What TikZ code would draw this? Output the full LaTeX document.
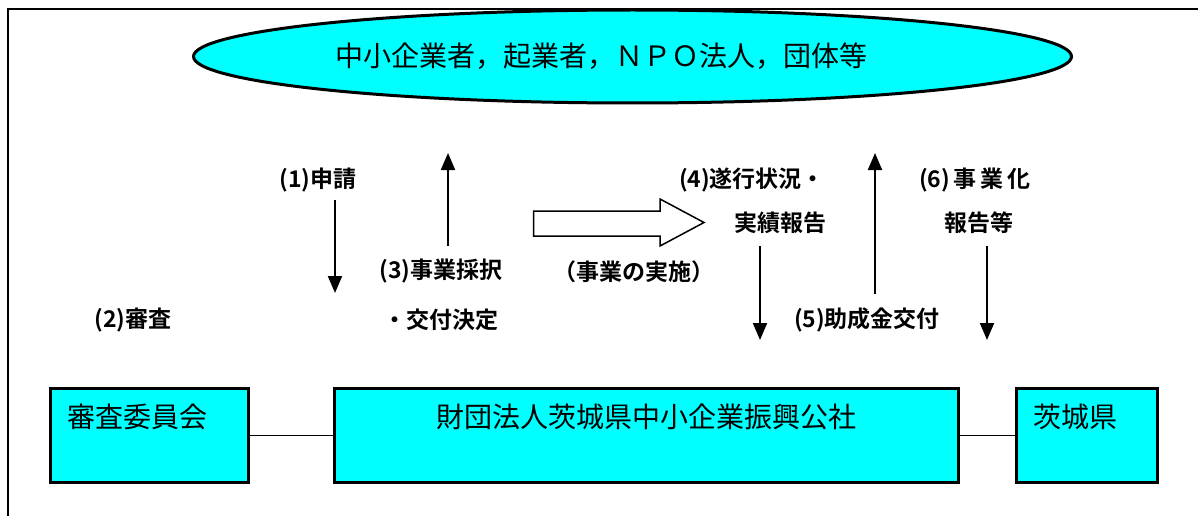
\documentclass[tikz,border=0pt]{standalone}
\usepackage{fontspec}
\setmainfont{Noto Sans CJK JP}[BoldFont={Noto Sans CJK JP Bold}]
\usetikzlibrary{positioning,shapes.geometric,arrows.meta}
\definecolor{aqua}{RGB}{0,255,255}
\tikzstyle{org}=[rectangle, draw=black, line width=3pt, fill=aqua, inner xsep=17pt, inner ysep=0pt, text height=38.6pt, text depth=55.4pt, font=\fontsize{28}{28}\selectfont]
\tikzstyle{tag}=[inner sep=0pt, font=\bfseries\fontsize{23}{23}\selectfont]
\tikzstyle{flowarrow}=[-{Triangle[length=17pt,width=14pt]}, line width=2pt]
\tikzstyle{link}=[line width=1.5pt]

\begin{document}
\begin{tikzpicture}[x=1pt, y=-1pt]
        \useasboundingbox (0,0) rectangle (1198,516);
        \draw[line width=2pt] (8.3,516) -- (8.3,9) -- (1198,9);

        % Applicants
        \node (applicants) [ellipse, draw=black, line width=3pt, fill=aqua, minimum width=878pt, minimum height=93pt, inner sep=0pt, font=\fontsize{28}{28}\selectfont] at (632.5,56.5) {中小企業者，起業者，ＮＰＯ法人，団体等\hspace*{62pt}};

        % Organisations
        \node (kosha) [org, text width=590pt, align=center] at (646.5,435.5) {財団法人茨城県中小企業振興公社};
        \node (shinsa) [org, text width=164pt, align=left] at (149.5,435.5) {審査委員会};
        \node (ken) [org, text width=107pt, align=left] at (1087,435.5) {茨城県};

        \draw[link] (shinsa) -- (kosha);
        \draw[link] (kosha) -- (ken);

        % Steps
        \node (apply) [tag] at (318,180) {(1)申請};
        \node (review) [tag] at (133,320) {(2)審査};
        \node (adopt) [tag] at (441,271) {(3)事業採択};
        \node (decision) [tag] at (441,320) {・交付決定};
        \node (implement) [tag] at (634,272) {（事業の実施）};
        \node (progress) [tag] at (752,180) {(4)遂行状況・};
        \node (results) [tag] at (780,223) {実績報告};
        \node (subsidy) [tag] at (867,320) {(5)助成金交付};
        \node (bizreport) [tag] at (975,180) {(6)\hspace{4pt}事\hspace{4pt}業\hspace{4pt}化};
        \node (reportetc) [tag] at (979,223) {報告等};

        \foreach \name/\x/\a/\b in {apply/335/200/293, adopt/448/246/153, results/760/246/340, subsidy/875/294/153, reportetc/987/246/340} {
                \coordinate (\name-from) at (\x,\a);
                \coordinate (\name-to) at (\x,\b);
                \draw[flowarrow] (\name-from) -- (\name-to);
        }

        % Implementation arrow
        \draw[line width=1.5pt, fill=white] (533.5,211) -- (660,211) -- (660,199) -- (704,222.5) -- (660,246) -- (660,236) -- (533.5,236) -- cycle;

\end{tikzpicture}
\end{document}
